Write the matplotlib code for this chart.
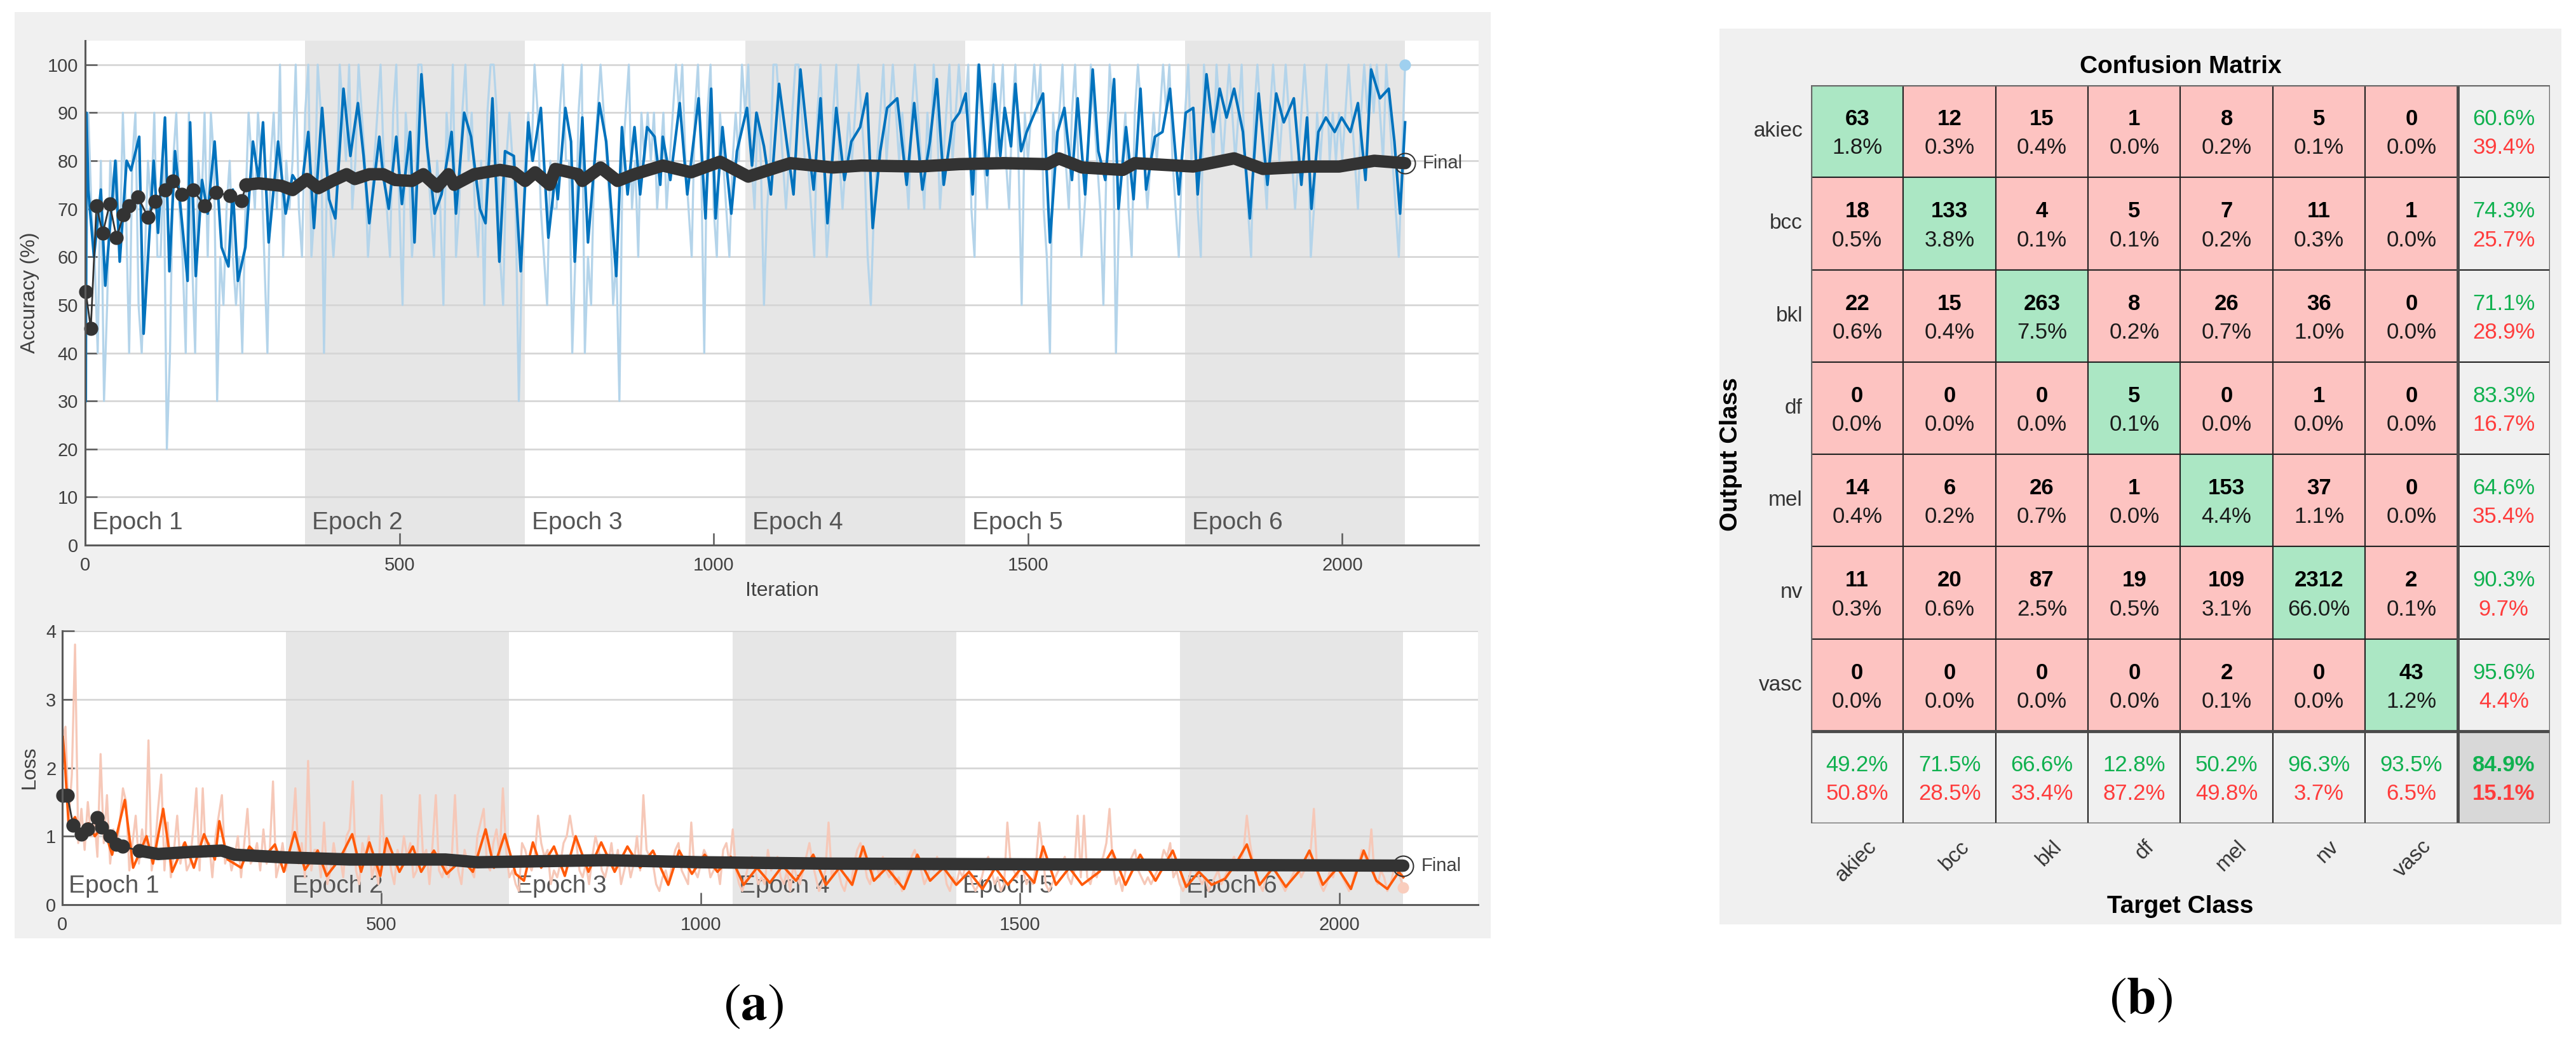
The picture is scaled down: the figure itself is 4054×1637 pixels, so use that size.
import numpy as np
import matplotlib
matplotlib.use('Agg')
import matplotlib.pyplot as plt
from matplotlib.patches import Rectangle

plt.rcParams['font.family'] = ['Liberation Sans', 'DejaVu Sans']
plt.rcParams['mathtext.fontset'] = 'stix'

# ---------------- data: training progress ----------------
epoch_len = 350
n_epochs = 6
raw_step = 5

acc_smooth_iter = [1, 2, 5, 14, 25, 32, 48, 55, 66, 73, 86, 93, 109, 116, 127, 134, 143, 152, 163, 167, 176, 186, 195,
                   206, 217, 228, 235, 243, 255, 267, 276, 283, 292, 307, 319, 330, 344, 355, 364, 377, 388, 398, 411,
                   422, 434, 443, 452, 468, 474, 483, 495, 504, 517, 524, 535, 544, 556, 567, 583, 590, 603, 614, 628,
                   637, 648, 659, 668, 682, 693, 705, 712, 725, 737, 748, 752, 764, 773, 779, 791, 800, 818, 829, 845,
                   854, 863, 874, 883, 894, 906, 915, 919, 931, 946, 958, 976, 987, 996, 1003, 1014, 1028, 1037, 1053,
                   1061, 1068, 1080, 1091, 1104, 1116, 1127, 1138, 1149, 1159, 1170, 1181, 1195, 1208, 1219, 1233,
                   1244, 1253, 1265, 1276, 1292, 1307, 1319, 1332, 1344, 1355, 1366, 1380, 1391, 1401, 1412, 1422,
                   1435, 1447, 1456, 1463, 1473, 1480, 1489, 1498, 1514, 1524, 1535, 1547, 1558, 1570, 1579, 1591,
                   1603, 1612, 1623, 1637, 1644, 1656, 1668, 1679, 1688, 1702, 1714, 1726, 1740, 1751, 1763, 1770,
                   1784, 1795, 1805, 1816, 1828, 1842, 1853, 1867, 1881, 1895, 1907, 1923, 1935, 1944, 1951, 1962,
                   1974, 1988, 1999, 2013, 2025, 2037, 2046, 2060, 2074, 2083, 2092, 2100]
acc_smooth_val = [30, 90, 74, 60, 74, 54, 80, 59, 80, 78, 85, 44, 80, 65, 89, 57, 82, 70, 55, 88, 56, 76, 69,
                  84, 62, 58, 74, 55, 62, 84, 76, 88, 63, 84, 69, 77, 74, 86, 66, 91, 72, 68, 95,
                  81, 92, 81, 67, 85, 77, 70, 85, 71, 86, 63, 98, 83, 69, 73, 86, 69, 90, 85, 70,
                  67, 93, 59, 82, 81, 57, 88, 80, 91, 64, 77, 72, 91, 84, 59, 89, 63, 92, 84, 56,
                  87, 73, 87, 73, 87, 85, 75, 85, 76, 92, 73, 93, 68, 95, 68, 87, 69, 82, 91,
                  79, 90, 83, 73, 96, 84, 73, 99, 85, 74, 93, 67, 91, 76, 84, 87,
                  94, 66, 82, 91, 93, 75, 92, 74, 84, 97, 75, 88, 90, 94, 73, 100,
                  77, 96, 81, 91, 83, 96, 82, 86, 91, 94, 63, 86, 91, 76, 93, 73,
                  99, 82, 76, 97, 70, 87, 72, 95, 74, 85, 86, 95, 73, 90, 91, 73,
                  98, 86, 95, 89, 95, 86, 68, 94, 75, 94, 88, 93, 75, 89, 70, 86,
                  89, 86, 89, 86, 92, 76, 99, 93, 95, 84, 69, 88]

# raw mini-batch accuracy (in tens of %), one value every raw_step iterations
acc_raw_tens = [
    3, 9, 7, 6, 4, 8, 3, 5, 8, 7,  8, 6, 9, 7, 4, 8, 9, 5, 4, 6,
    8, 7, 9, 6, 6, 8, 2, 4, 8, 9,  7, 6, 4, 9, 6, 4, 8, 7, 9, 6,
    9, 8, 3, 6, 5, 7, 8, 6, 5, 6,  4, 7, 9, 8, 7, 9, 8, 6, 4, 8,
    9, 7, 10, 6, 8, 7, 8, 10, 7, 6,  9, 10, 6, 7, 10, 9, 4, 8, 7, 6,
    7, 10, 9, 8, 10, 7, 8, 10, 9, 8,  6, 7, 8, 9, 10, 8, 7, 6, 9, 10,
    7, 5, 9, 8, 6, 7, 10, 10, 9, 8,  7, 6, 8, 7, 5, 9, 8, 10, 6, 7,
    9, 10, 8, 9, 7, 6, 8, 5, 9, 10,  10, 9, 6, 5, 8, 9, 8, 7, 3, 6,
    8, 9, 8, 10, 9, 7, 6, 5, 8, 7,  7, 9, 10, 8, 8, 4, 6, 9, 10, 4,
    6, 5, 8, 9, 10, 9, 8, 7, 5, 6,  3, 8, 9, 10, 7, 8, 6, 9, 8, 9,
    8, 9, 7, 8, 9, 7, 8, 9, 10, 9,  10, 8, 7, 6, 9, 10, 8, 4, 9, 10,
    7, 6, 9, 8, 7, 6, 8, 9, 8, 10,  9, 10, 8, 7, 9, 8, 5, 7, 8, 10,
    10, 9, 8, 7, 8, 9, 10, 10, 9, 8,  8, 7, 6, 9, 10, 8, 6, 7, 9, 10,
    8, 7, 8, 9, 8, 9, 10, 9, 8, 6,  5, 7, 8, 9, 10, 8, 9, 10, 9, 8,
    9, 8, 7, 9, 10, 9, 8, 7, 9, 8,  10, 9, 7, 8, 9, 10, 8, 9, 10, 9,
    9, 10, 7, 6, 10, 9, 8, 7, 9, 10,  8, 9, 10, 8, 7, 9, 10, 8, 5, 9,
    8, 9, 10, 9, 10, 7, 6, 4, 9, 8,  9, 10, 8, 7, 9, 10, 8, 6, 7, 8,
    10, 9, 8, 7, 5, 8, 10, 9, 4, 7,  8, 9, 7, 6, 9, 10, 9, 8, 7, 8,
    9, 8, 9, 10, 9, 10, 8, 7, 6, 8,  9, 10, 8, 9, 7, 6, 10, 9, 9, 8,
    10, 9, 8, 9, 10, 9, 8, 9, 10, 8,  7, 6, 9, 10, 9, 8, 7, 9, 10, 9,
    8, 9, 10, 9, 8, 7, 8, 9, 10, 9,  6, 7, 9, 8, 9, 10, 8, 9, 8, 9,
    8, 9, 10, 9, 8, 7, 9, 10, 9, 10,  9, 10, 9, 8, 10, 9, 8, 7, 6, 8,
    10]

acc_val_iter = [1, 9, 18, 28, 39, 50, 61, 70, 84, 100, 111, 127, 140, 154, 172, 190, 208, 231, 249, 256,
                276, 312, 330, 353, 371, 393, 416, 429, 452, 474, 493, 520, 538, 560, 578, 587, 619, 660, 682, 700,
                716, 739, 748, 784, 791, 820, 847, 874, 919, 964, 1010, 1055, 1100, 1122, 1190, 1235, 1326, 1391,
                1461, 1531, 1549, 1586, 1651, 1670, 1763, 1828, 1874, 1949, 1995, 2051, 2100]
acc_val = [52.7, 45.1, 70.6, 64.9, 71.0, 64.0, 68.7, 70.6, 72.5, 68.2, 71.5, 73.9, 75.8, 73.0, 73.9, 70.6, 73.4,
           72.7, 71.7, 75.0, 75.3, 74.8, 73.9, 76.2, 74.3, 75.8, 77.2, 76.2, 77.2, 77.2, 76.0, 75.8, 77.2, 74.6,
           77.2, 75.0, 77.2, 78.1, 77.6, 75.8, 77.6, 75.0, 78.3, 77.2, 75.8, 78.6, 75.8, 77.2, 79.0, 77.6, 79.8,
           76.7, 78.6, 79.5, 78.6, 79.0, 78.8, 79.3, 79.5, 79.3, 80.5, 78.6, 78.1, 79.5, 78.8, 80.5, 78.3, 78.8,
           78.8, 80.0, 79.5]
acc_val_dots = 19  # first validation points drawn as separate dots

loss_smooth_iter = [1, 4, 10, 20, 31, 41, 51, 64, 78, 98, 111, 132, 142, 158, 172, 192, 206, 222, 239, 246, 259,
                    280, 293, 313, 333, 347, 364, 380, 400, 414, 434, 454, 468, 481, 498, 508, 528, 549, 562, 582,
                    602, 626, 643, 663, 676, 693, 710, 723, 737, 750, 770, 787, 804, 824, 844, 865, 885, 905, 925,
                    949, 966, 986, 1006, 1026, 1047, 1067, 1088, 1108, 1128, 1149, 1176, 1196, 1217, 1237, 1254,
                    1271, 1291, 1318, 1339, 1359, 1380, 1400, 1420, 1441, 1461, 1481, 1502, 1522, 1536, 1556, 1577,
                    1597, 1624, 1644, 1665, 1688, 1712, 1739, 1760, 1780, 1800, 1821, 1838, 1855, 1875, 1896, 1916,
                    1936, 1953, 1974, 1997, 2018, 2038, 2058, 2075, 2093, 2100]
loss_smooth_val = [2.45, 2.08, 1.16, 1.28, 0.97, 1.19, 1.0, 1.16, 0.73, 1.53, 0.54, 1.0, 0.6, 1.4, 0.48, 0.91,
                   0.54, 1.03, 0.66, 1.22, 0.66, 0.54, 0.85, 0.66, 0.88, 0.48, 1.06, 0.51, 0.79, 0.42, 0.66, 1.03,
                   0.48, 0.91, 0.42, 0.97, 0.48, 0.85, 0.48, 0.79, 0.45, 0.66, 0.48, 1.1, 0.54, 1.03, 0.45, 0.35,
                   0.91, 0.54, 0.85, 0.42, 1.0, 0.48, 0.91, 0.48, 0.85, 0.54, 0.79, 0.29, 0.79, 0.45, 0.73, 0.48,
                   0.7, 0.29, 0.54, 0.32, 0.57, 0.35, 0.73, 0.29, 0.54, 0.29, 0.85, 0.35, 0.54, 0.23, 0.73, 0.35,
                   0.54, 0.29, 0.48, 0.23, 0.54, 0.29, 0.54, 0.32, 0.85, 0.29, 0.54, 0.29, 0.48, 0.79, 0.29, 0.73,
                   0.35, 0.79, 0.26, 0.48, 0.29, 0.38, 0.6, 0.88, 0.29, 0.54, 0.26, 0.48, 0.79, 0.29, 0.54, 0.23,
                   0.79, 0.35, 0.23, 0.48, 0.4]

loss_raw = [
    2.4, 2.6, 1.2, 1.9, 3.8, 0.9, 1.4, 0.8, 1.5, 1.0,  1.3, 0.7, 2.2, 0.9, 1.6, 0.6, 1.1, 0.8, 1.2, 1.7,
    1.5, 0.5, 0.9, 1.3, 0.6, 1.1, 0.7, 2.4, 0.5, 0.8,  1.4, 1.9, 0.5, 1.2, 0.4, 0.8, 1.3, 0.6, 0.9, 0.5,
    0.6, 1.1, 1.7, 0.5, 1.7, 0.7, 0.9, 0.4, 1.0, 1.3,  1.6, 0.6, 0.8, 0.5, 0.7, 1.0, 0.4, 0.9, 1.4, 0.6,
    0.7, 0.9, 0.5, 1.1, 0.6, 0.8, 1.8, 0.4, 0.6, 0.9,  0.5, 0.7, 1.0, 1.7, 0.6, 0.9, 0.4, 2.1, 0.5, 0.8,
    0.8, 0.4, 1.2, 0.3, 0.5, 0.9, 0.6, 0.7, 0.4, 1.0,  1.1, 1.8, 0.5, 0.3, 0.9, 0.7, 1.0, 0.4, 0.6, 0.3,
    1.6, 0.6, 0.9, 0.5, 0.3, 0.8, 0.6, 1.0, 0.7, 0.9,  0.4, 0.5, 1.6, 0.7, 0.8, 0.3, 0.9, 1.6, 0.5, 0.4,
    0.6, 0.4, 0.7, 1.6, 0.5, 0.3, 0.8, 0.6, 0.5, 0.4,  1.0, 1.2, 1.4, 0.6, 0.5, 0.9, 1.1, 0.7, 1.7, 0.8,
    0.4, 0.5, 0.3, 0.2, 0.9, 0.8, 0.6, 0.5, 0.7, 1.3,  0.9, 0.7, 0.8, 0.3, 0.5, 0.4, 0.6, 0.9, 1.0, 1.3,
    1.0, 0.9, 0.5, 0.4, 0.6, 0.3, 0.7, 1.0, 0.8, 0.5,  0.4, 0.6, 0.9, 0.5, 0.8, 0.3, 0.5, 0.7, 0.4, 0.6,
    1.0, 0.5, 1.6, 0.8, 0.7, 0.6, 0.3, 0.2, 0.4, 0.5,  0.3, 0.6, 0.8, 0.9, 0.5, 0.4, 0.3, 1.2, 0.5, 0.4,
    0.6, 0.8, 0.7, 0.4, 0.5, 0.6, 0.3, 0.8, 0.9, 0.6,  1.1, 0.5, 0.3, 0.2, 0.4, 0.6, 0.7, 0.5, 0.3, 0.4,
    0.3, 0.8, 0.5, 0.6, 0.7, 0.4, 0.3, 0.5, 0.2, 0.6,  0.4, 0.3, 0.5, 0.7, 0.9, 0.6, 0.4, 0.2, 0.3, 0.5,
    1.2, 0.4, 0.6, 0.5, 0.3, 0.2, 0.4, 0.3, 0.6, 0.8,  0.9, 0.7, 0.4, 0.3, 0.5, 0.6, 0.4, 0.7, 0.5, 0.4,
    0.5, 0.3, 0.4, 0.2, 0.3, 0.5, 0.7, 0.8, 0.6, 0.5,  0.3, 0.4, 0.6, 0.5, 0.7, 0.5, 0.6, 0.3, 0.2, 0.4,
    0.3, 0.5, 0.4, 0.6, 0.5, 0.3, 0.2, 0.3, 0.4, 0.6,  0.7, 0.5, 0.3, 0.4, 0.2, 0.3, 1.2, 0.6, 0.5, 0.4,
    0.6, 0.5, 0.3, 0.4, 0.3, 0.6, 1.2, 0.8, 0.3, 0.2,  0.3, 0.4, 0.5, 0.6, 0.7, 0.4, 0.3, 0.5, 1.3, 0.4,
    1.3, 0.4, 0.3, 0.5, 0.4, 0.6, 0.7, 0.9, 1.4, 0.6,  0.3, 0.4, 0.2, 0.5, 0.6, 0.7, 0.8, 0.5, 0.4, 0.3,
    0.4, 0.3, 0.4, 0.5, 0.6, 0.8, 0.7, 0.9, 0.4, 0.5,  0.3, 0.2, 0.3, 0.4, 0.6, 0.5, 0.4, 0.3, 0.4, 0.2,
    0.3, 0.4, 0.5, 0.3, 0.4, 0.5, 0.6, 0.7, 0.5, 0.6,  0.8, 1.3, 0.9, 0.6, 0.4, 0.3, 0.2, 0.4, 0.5, 0.6,
    0.5, 0.4, 0.3, 0.2, 0.3, 0.4, 0.5, 0.6, 0.4, 0.5,  0.6, 0.8, 1.4, 0.5, 0.3, 0.2, 0.3, 0.5, 0.4, 0.6,
    0.5, 0.4, 0.3, 0.2, 0.3, 0.5, 0.6, 0.8, 0.7, 0.6,  1.1, 0.4, 0.3, 0.5, 0.4, 0.2, 0.3, 0.5, 0.6, 0.4,
    0.25]

loss_val_iter = [1, 8, 17, 30, 40, 55, 62, 75, 85, 95, 120, 150, 200, 250, 270, 350, 450, 600, 650, 850, 1000,
                 1200, 1500, 1800, 2100]
loss_val = [1.6, 1.6, 1.16, 1.03, 1.1, 1.27, 1.13, 1.0, 0.88, 0.85, 0.79, 0.74, 0.77, 0.79, 0.73, 0.69, 0.66,
            0.66, 0.62, 0.65, 0.62, 0.60, 0.59, 0.58, 0.57]
loss_val_dots = 10

# ---------------- data: confusion matrix ----------------
classes = ['akiec', 'bcc', 'bkl', 'df', 'mel', 'nv', 'vasc']
cm_counts = [
    [63, 12, 15, 1, 8, 5, 0],
    [18, 133, 4, 5, 7, 11, 1],
    [22, 15, 263, 8, 26, 36, 0],
    [0, 0, 0, 5, 0, 1, 0],
    [14, 6, 26, 1, 153, 37, 0],
    [11, 20, 87, 19, 109, 2312, 2],
    [0, 0, 0, 0, 2, 0, 43],
]

# ---------------- figure ----------------
W, H = 4055, 1637
fig = plt.figure(figsize=(W / 100, H / 100), dpi=100)
fig.patch.set_facecolor('white')


def px_axes(l, t, r, b):
    return fig.add_axes([l / W, (H - b) / H, (r - l) / W, (b - t) / H])


def px_rect(l, t, r, b, color):
    fig.add_artist(Rectangle((l / W, (H - b) / H), (r - l) / W, (b - t) / H,
                             transform=fig.transFigure, facecolor=color, edgecolor='none', zorder=0))


px_rect(23, 19, 2346, 1477, '#f0f0f0')
px_rect(2706, 45, 4031, 1455, '#f0f0f0')

AX_COL = '#5a5a5a'
TXT_COL = '#404040'
SHADE = '#e6e6e6'
GRID = '#d6d6d6'


def style_train_axes(ax, ymax, yticks, ypad):
    ax.set_facecolor('white')
    ax.set_xlim(0, 2217)
    ax.set_ylim(0, ymax)
    for k in range(n_epochs):
        if k % 2 == 1:
            ax.axvspan(k * epoch_len, (k + 1) * epoch_len, color=SHADE, lw=0, zorder=0)
    for v in yticks[1:]:
        ax.axhline(v, color=GRID, lw=2, zorder=0.5)
    for s in ['top', 'right']:
        ax.spines[s].set_visible(False)
    for s in ['left', 'bottom']:
        ax.spines[s].set_color(AX_COL)
        ax.spines[s].set_linewidth(2.2)
        ax.spines[s].set_zorder(6)
    ax.set_xticks([0, 500, 1000, 1500, 2000])
    ax.set_yticks(yticks)
    ax.tick_params(direction='in', length=14, width=1.8, color=AX_COL, labelsize=21, labelcolor=TXT_COL)
    ax.tick_params(axis='x', pad=13)
    ax.tick_params(axis='y', pad=ypad)


# ---- accuracy axes ----
ax1 = px_axes(134, 64, 2327, 858)
style_train_axes(ax1, 105, list(range(0, 101, 10)), 8)

raw_it = np.arange(len(acc_raw_tens)) * raw_step
acc_raw = np.array(acc_raw_tens) * 10
ax1.plot(raw_it, acc_raw, color='#b4d4ea', lw=2.4, zorder=2)
ax1.plot(raw_it[-1], acc_raw[-1], 'o', ms=12, color='#9fd0ef', zorder=2, clip_on=False)
ax1.plot(acc_smooth_iter, acc_smooth_val, color='#0072bd', lw=3.0, zorder=3)
ax1.plot(acc_val_iter[:acc_val_dots + 1], acc_val[:acc_val_dots + 1], color='#333333', lw=2,
         marker='o', ms=15, zorder=4, clip_on=False)
ax1.plot(acc_val_iter[acc_val_dots:], acc_val[acc_val_dots:], color='#333333', lw=14,
         solid_capstyle='round', zorder=4)
ax1.plot(acc_val_iter[-1], acc_val[-1], 'o', ms=23, mfc='none', mec='#333333', mew=1.5, zorder=5,
         clip_on=False)
ax1.text(2128, acc_val[-1], 'Final', fontsize=21, color=TXT_COL, va='center', ha='left', zorder=5)
for k in range(n_epochs):
    ax1.text(k * epoch_len + 11, 2.3, f'Epoch {k + 1}', fontsize=28, color='#555555',
             ha='left', va='bottom', zorder=1)
ax1.set_ylabel('Accuracy (%)', fontsize=23, color=TXT_COL)
ax1.yaxis.set_label_coords(-0.0397, 0.5)
ax1.yaxis.label.set_va('center')
ax1.set_xlabel('Iteration', fontsize=23, color=TXT_COL)
ax1.xaxis.set_label_coords(0.5, -0.0907)
ax1.xaxis.label.set_va('center')

# ---- loss axes ----
ax2 = px_axes(98, 993, 2326, 1424)
style_train_axes(ax2, 4, [0, 1, 2, 3, 4], 7)
for k in range(n_epochs):
    ax2.text(k * epoch_len + 10, 0.1, f'Epoch {k + 1}', fontsize=28, color='#555555',
             ha='left', va='bottom', zorder=1)
loss_it = np.arange(len(loss_raw)) * raw_step
ax2.plot(loss_it, loss_raw, color='#f6c8b8', lw=2.4, zorder=2)
ax2.plot(loss_it[-1], loss_raw[-1], 'o', ms=12, color='#f9cdbd', zorder=2, clip_on=False)
ax2.plot(loss_smooth_iter, loss_smooth_val, color='#ff5a0a', lw=2.8, zorder=3)
ax2.plot(loss_val_iter[:loss_val_dots + 1], loss_val[:loss_val_dots + 1], color='#333333', lw=2,
         marker='o', ms=15, zorder=4, clip_on=False)
ax2.plot(loss_val_iter[loss_val_dots:], loss_val[loss_val_dots:], color='#333333', lw=14,
         solid_capstyle='round', zorder=4)
ax2.plot(loss_val_iter[-1], loss_val[-1], 'o', ms=23, mfc='none', mec='#333333', mew=1.5, zorder=5,
         clip_on=False)
ax2.text(2128, loss_val[-1], 'Final', fontsize=21, color=TXT_COL, va='center', ha='left', zorder=5)
ax2.set_ylabel('Loss', fontsize=23, color=TXT_COL)
ax2.yaxis.set_label_coords(-0.0233, 0.5)
ax2.yaxis.label.set_va('center')

# ---- confusion matrix ----
axc = px_axes(2850, 134, 4013, 1296)
axc.set_xlim(0, 8)
axc.set_ylim(8, 0)
axc.axis('off')

counts = np.array(cm_counts)
n = len(classes)
total = counts.sum()
GREEN_BG, RED_BG, GRAY_BG, DARK_BG = '#abe7c4', '#fdc3c1', '#f0f0f0', '#d8d8d8'
GREEN_TX, RED_TX = '#10b14f', '#ff3c3c'

for r in range(n + 1):
    for c in range(n + 1):
        if r < n and c < n:
            bg = GREEN_BG if r == c else RED_BG
        elif r == n and c == n:
            bg = DARK_BG
        else:
            bg = GRAY_BG
        axc.add_patch(Rectangle((c, r), 1, 1, facecolor=bg, edgecolor='#222222', lw=1.5, zorder=1))
        if r < n and c < n:
            axc.text(c + 0.5, r + 0.37, f'{counts[r, c]}', ha='center', va='center', fontsize=25,
                     fontweight='bold', color='black', zorder=3)
            axc.text(c + 0.5, r + 0.68, f'{100 * counts[r, c] / total:.1f}%', ha='center', va='center',
                     fontsize=25, color='#1a1a1a', zorder=3)
        else:
            if r < n:
                good = counts[r, r] / counts[r].sum()
            elif c < n:
                good = counts[c, c] / counts[:, c].sum()
            else:
                good = np.trace(counts) / total
            fw = 'bold' if (r == n and c == n) else 'normal'
            axc.text(c + 0.5, r + 0.37, f'{100 * good:.1f}%', ha='center', va='center', fontsize=25,
                     color=GREEN_TX, fontweight=fw, zorder=3)
            axc.text(c + 0.5, r + 0.68, f'{100 * (1 - good):.1f}%', ha='center', va='center', fontsize=25,
                     color=RED_TX, fontweight=fw, zorder=3)

axc.plot([n, n], [0, n + 1], color='#4a4a4a', lw=3.5, zorder=2)
axc.plot([0, n + 1], [n, n], color='#4a4a4a', lw=3.5, zorder=2)
axc.add_patch(Rectangle((0, 0), n + 1, n + 1, facecolor='none', edgecolor='#6a6a6a', lw=2.5, zorder=2))

for i, name in enumerate(classes):
    axc.text(-0.09, i + 0.5, name, ha='right', va='center', fontsize=24, color='#333333')
    axc.text(i + 0.68, n + 1.22, name, ha='right', va='center', rotation=45, rotation_mode='anchor',
             fontsize=24, color='#333333')

axc.text(4.0, -0.2, 'Confusion Matrix', ha='center', va='center', fontsize=28, fontweight='bold')
axc.text(4.0, 8.9, 'Target Class', ha='center', va='center', fontsize=28, fontweight='bold')
axc.text(-0.87, 4.0, 'Output Class', ha='center', va='center', rotation=90, fontsize=28, fontweight='bold')

# ---- panel labels ----
fig.text(1186 / W, 1 - 1586 / H, r'($\mathbf{a}$)', ha='center', va='center', fontsize=60,
         family='STIXGeneral')
fig.text(3369 / W, 1 - 1576 / H, r'($\mathbf{b}$)', ha='center', va='center', fontsize=60,
         family='STIXGeneral')

fig.savefig('out.png', dpi=100, facecolor='white')
